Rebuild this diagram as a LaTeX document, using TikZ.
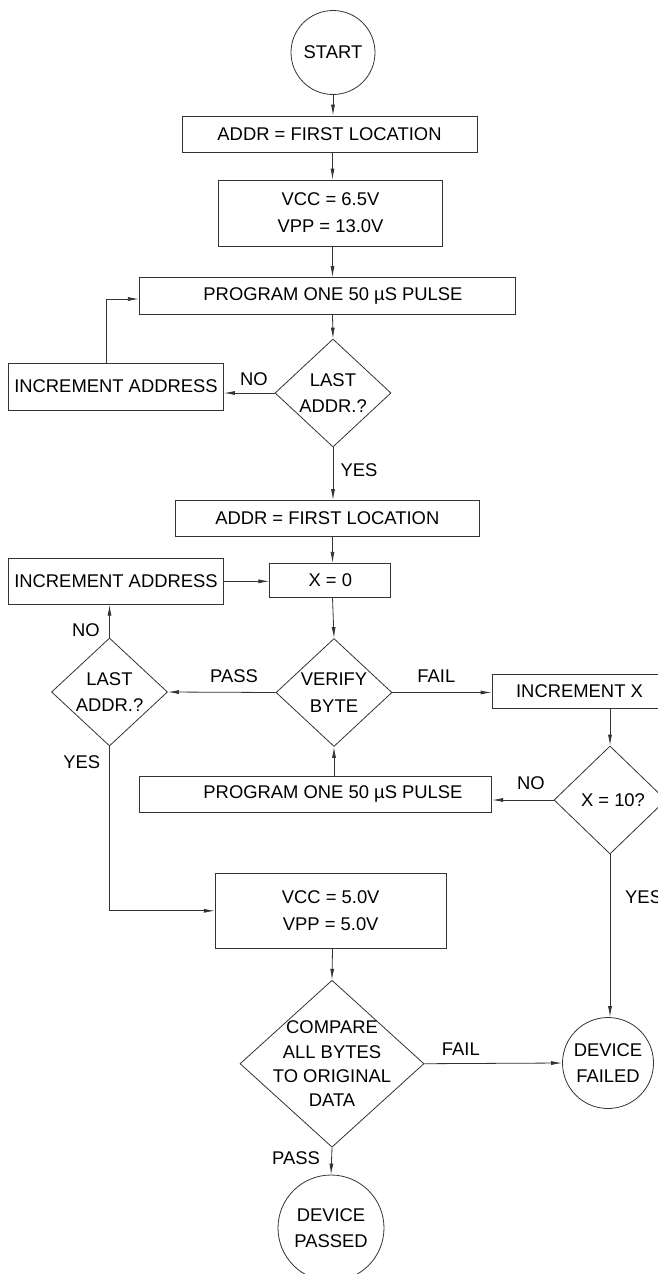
\documentclass[tikz,border=0pt]{standalone}
\usepackage{fontspec}
\setmainfont{Liberation Sans}
\usetikzlibrary{shapes.geometric,arrows.meta}

\begin{document}
\begin{tikzpicture}[x=1pt,y=-1pt,
    font=\fontsize{18.4}{26.7}\selectfont,
    block/.style={draw=black!80, line width=0.8pt, rectangle, inner sep=0pt, align=center},
    decision/.style={draw=black!80, line width=0.8pt, diamond, inner sep=0pt},
    terminal/.style={draw=black!80, line width=0.8pt, circle, inner sep=0pt, align=center},
    flow/.style={draw=black!80, line width=0.8pt, -{Latex[length=11pt,width=4pt]}},
    tag/.style={inner sep=0pt}]
    \useasboundingbox (0,0) rectangle (658,1274);
    \coordinate (axis) at (332.5,0);
    % First pass: program every location
    \node[terminal, minimum size=84pt] (start) at (333,52.5) {START};
    \node[block, minimum width=295pt, minimum height=36pt] (addrA) at (329.5,134) {ADDR = FIRST LOCATION};
    \node[block, minimum width=224pt, minimum height=66pt] (voltA) at (330.5,213) {VCC = 6.5V\\VPP = 13.0V};
    \node[block, minimum width=376pt, minimum height=37pt,
        label={[xshift=5.7pt]center:PROGRAM ONE 50 µS PULSE}] (progA) at (327.3,296) {};
    \node[decision, minimum width=116pt, minimum height=108pt,
        label={[align=center]center:LAST\\ADDR.?}] (lastA) at (333,393) {};
    \node[block, minimum width=215pt, minimum height=47pt] (incA) at (116,386.5) {INCREMENT ADDRESS};
    % Second pass: verify every byte
    \node[block, minimum width=304pt, minimum height=36pt] (addrB) at (327.3,518.5) {ADDR = FIRST LOCATION};
    \node[block, minimum width=121pt, minimum height=34pt] (xzero) at (330.3,580.3) {X = 0};
    \node[block, minimum width=215pt, minimum height=46pt] (incB) at (116,581.3) {INCREMENT ADDRESS};
    \node[decision, minimum width=116pt, minimum height=108pt,
        label={[align=center]center:VERIFY\\BYTE}] (verify) at (334,692.5) {};
    \node[decision, minimum width=116pt, minimum height=108pt,
        label={[align=center]center:LAST\\ADDR.?}] (lastB) at (109.5,692) {};
    \node[block, minimum width=175pt, minimum height=34pt] (incX) at (579.5,691.3) {INCREMENT X};
    \node[decision, minimum width=112pt, minimum height=108pt,
        label={[xshift=3pt]center:X = 10?}] (xten) at (610,800) {};
    \node[block, minimum width=352.5pt, minimum height=36.6pt,
        label={[xshift=17.5pt]center:PROGRAM ONE 50 µS PULSE}] (progB) at (315.5,794.3) {};
    % Final check
    \node[block, minimum width=231pt, minimum height=75pt] (voltB) at (330.7,910.8) {VCC = 5.0V\\VPP = 5.0V};
    \node[decision, minimum width=184pt, minimum height=167pt,
        label={[align=center,font=\fontsize{18.4}{24.2}\selectfont]center:COMPARE\\ALL BYTES\\TO ORIGINAL\\DATA}] (compare) at (332,1063.7) {};
    \node[terminal, minimum size=91pt] (failed) at (608,1063) {DEVICE\\FAILED};
    \node[terminal, minimum size=106pt] (passed) at (331,1228) {DEVICE\\PASSED};
    % Connectors
    \draw[flow] (start.south) -- (start.south |- addrA.north);
    \draw[flow] (axis |- addrA.south) -- (axis |- voltA.north);
    \draw[flow] (axis |- voltA.south) -- (axis |- progA.north);
    \draw[flow] (axis |- progA.south) -- (lastA.north);
    \draw[flow] (lastA.west) -- (lastA.west -| incA.east);
    \draw[flow] ([xshift=-10pt]incA.north) |- ([yshift=-3pt]progA.west);
    \draw[flow] (lastA.south) -- (lastA.south |- addrB.north);
    \draw[flow] (axis |- addrB.south) -- (axis |- xzero.north);
    \draw[flow] (incB.east) -- (incB.east -| xzero.west);
    \draw[flow] (axis |- xzero.south) -- (verify.north);
    \draw[flow] (verify.west) -- (lastB.east);
    \draw[flow] (verify.east) -- (verify.east -| incX.west);
    \draw[flow] (lastB.north) -- (lastB.north |- incB.south);
    \draw[flow] (xten.north |- incX.south) -- (xten.north);
    \draw[flow] (xten.west) -- (xten.west -| progB.east);
    \draw[flow] (verify.south |- progB.north) -- (verify.south);
    \draw[flow] (lastB.south) |- (voltB.west);
    \draw[flow] (axis |- voltB.south) -- (compare.north);
    \draw[flow] (compare.east) -- (failed.west);
    \draw[flow] (xten.south) -- (xten.south |- failed.north);
    \draw[flow] (compare.south) -- (passed.north);
    % Branch labels
    \node[tag] (noA) at (254,379) {NO};
    \node[tag] (yesA) at (359,470) {YES};
    \node[tag] (noB) at (86,630) {NO};
    \node[tag] (passA) at (234,675.7) {PASS};
    \node[tag] (failA) at (436.4,675.7) {FAIL};
    \node[tag] (yesB) at (81.8,762.3) {YES};
    \node[tag] (noC) at (531,783.3) {NO};
    \node[tag, anchor=west] (yesC) at (625,896.7) {YES};
    \node[tag] (failB) at (460.8,1049) {FAIL};
    \node[tag] (passB) at (296,1158.3) {PASS};
\end{tikzpicture}
\end{document}
